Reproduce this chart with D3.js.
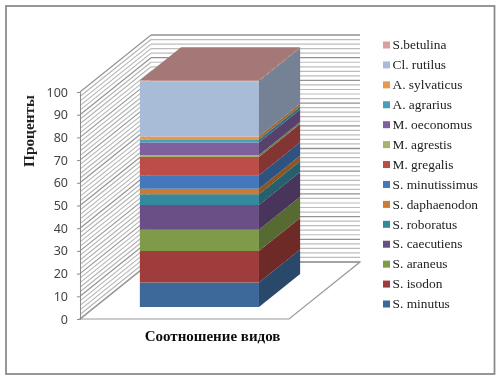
<!DOCTYPE html>
<html>
<head>
<meta charset="utf-8">
<script src="https://cdn.jsdelivr.net/npm/d3@7"></script>
<style>
    html, body { margin: 0; padding: 0; background: #fff; }
    svg { display: block; }
</style>
</head>
<body>
<svg id="chart" width="502" height="382"></svg>
<script>
const category = "Соотношение видов";
const species = ["S. minutus", "S. isodon", "S. araneus", "S. caecutiens", "S. roboratus", "S. daphaenodon",
    "S. minutissimus", "M. gregalis", "M. agrestis", "M. oeconomus", "A. agrarius", "A. sylvaticus",
    "Cl. rutilus", "S.betulina"];
const percents = [10.8, 13.9, 9.3, 10.9, 4.8, 2.4, 5.9, 8.1, 0.9, 5.5, 1.3, 1.3, 24.4, 0.4];
const colors = ["#3d689a", "#9e3c3a", "#7f9a48", "#6a4f86", "#36899f", "#cc7c30", "#4478bb", "#bd4e4a",
    "#a3b56e", "#7f5f9d", "#46a0b8", "#e8994f", "#a8bcd8", "#d9a09e"];

const svg = d3.select("#chart");
const g = svg.append("g");

// Soft blur, the reference is a scanned image
const blur = svg.append("defs").append("filter").attr("id", "soft");
blur.append("feGaussianBlur").attr("stdDeviation", 0.5);
g.attr("filter", "url(#soft)");

g.append("rect").attr("width", 502).attr("height", 382).attr("fill", "#fff");
g.append("rect")
    .attr("x", 6).attr("y", 6).attr("width", 488.5).attr("height", 368)
    .attr("fill", "none").attr("stroke", "#8c8c8c").attr("stroke-width", 1.8);

const x = d3.scaleBand().domain([category]).range([80, 289]).padding(0.274);
const y = d3.scaleLinear().domain([0, 100]).range([319, 92]);

// Oblique projection of the 3D box
const depthX = 71, depthY = 57;
const frontDepth = 0.21, backDepth = 0.79;
const project = (px, value, depth) => [px + depth * depthX, y(value) - depth * depthY];
const poly = pts => pts.map(p => p.join(",")).join(" ");

const row = {};
species.forEach((s, i) => { row[s] = percents[i]; });
const series = d3.stack().keys(species)([row]);

// Walls and gridlines
const minor = y.ticks(50);
const isMajor = v => v % 10 === 0;
const grid = g.append("g").attr("fill", "none");

grid.selectAll(".back")
    .data(minor)
    .enter().append("line")
    .attr("x1", project(80, 0, 1)[0])
    .attr("x2", project(289, 0, 1)[0])
    .attr("y1", d => project(80, d, 1)[1])
    .attr("y2", d => project(80, d, 1)[1])
    .attr("stroke", d => isMajor(d) ? "#929292" : "#bcbcbc")
    .attr("stroke-width", d => isMajor(d) ? 1.3 : 1.2);

grid.selectAll(".side")
    .data(minor)
    .enter().append("line")
    .attr("x1", 80)
    .attr("y1", d => y(d))
    .attr("x2", project(80, 0, 1)[0])
    .attr("y2", d => project(80, d, 1)[1])
    .attr("stroke", d => isMajor(d) ? "#929292" : "#b4b4b4")
    .attr("stroke-width", 1.1);

// Floor outline
g.append("polyline")
    .attr("points", poly([project(80, 0, 1), project(80, 0, 0), project(289, 0, 0), project(289, 0, 1), project(80, 0, 1)]))
    .attr("fill", "none")
    .attr("stroke", "#999")
    .attr("stroke-width", 1.2);

// Stacked box, bottom to top
const left = x(category), right = x(category) + x.bandwidth();
const bar = g.append("g");

series.forEach((s, i) => {
    const [v0, v1] = s[0];
    const c = colors[i];
    bar.append("polygon")
        .attr("points", poly([project(left, v0, frontDepth), project(right, v0, frontDepth),
            project(right, v1, frontDepth), project(left, v1, frontDepth)]))
        .attr("fill", c);
    bar.append("polygon")
        .attr("points", poly([project(right, v0, frontDepth), project(right, v0, backDepth),
            project(right, v1, backDepth), project(right, v1, frontDepth)]))
        .attr("fill", d3.color(c).darker(1.05));
});

const last = series[series.length - 1][0][1];
bar.append("polygon")
    .attr("points", poly([project(left, last, frontDepth), project(right, last, frontDepth),
        project(right, last, backDepth), project(left, last, backDepth)]))
    .attr("fill", d3.color(colors[colors.length - 1]).darker(0.8));

// Y-axis
const yAxis = g.append("g")
    .attr("transform", "translate(80,0)")
    .call(d3.axisLeft(y).ticks(10).tickSize(3).tickPadding(9));
yAxis.selectAll("path, line").attr("stroke", "#8c8c8c");
yAxis.selectAll("text")
    .attr("font-family", "'Noto Sans', sans-serif")
    .attr("font-size", 12.5)
    .attr("fill", "#444");

// Axes labels
g.append("text")
    .attr("transform", "translate(34,131) rotate(-90)")
    .attr("text-anchor", "middle")
    .attr("font-family", "'Liberation Serif', serif")
    .attr("font-weight", "bold")
    .attr("font-size", 15.3)
    .attr("fill", "#222")
    .text("Проценты");

g.append("text")
    .attr("x", 212.5)
    .attr("y", 340.5)
    .attr("text-anchor", "middle")
    .attr("font-family", "'Liberation Serif', serif")
    .attr("font-weight", "bold")
    .attr("font-size", 15)
    .attr("fill", "#111")
    .text(category);

// Legend, top entry is the last series
const legendY = d3.scalePoint().domain(species.slice().reverse()).range([45, 304]);
const legend = g.selectAll(".legend")
    .data(species)
    .enter().append("g")
    .attr("transform", d => `translate(383,${legendY(d)})`);

legend.append("rect")
    .attr("y", -3.5)
    .attr("width", 7)
    .attr("height", 7)
    .attr("fill", (d, i) => colors[i]);

legend.append("text")
    .attr("x", 9.5)
    .attr("y", 4.2)
    .attr("font-family", "'Liberation Serif', serif")
    .attr("font-size", 13.4)
    .attr("fill", "#222")
    .text(d => d);
</script>
</body>
</html>
